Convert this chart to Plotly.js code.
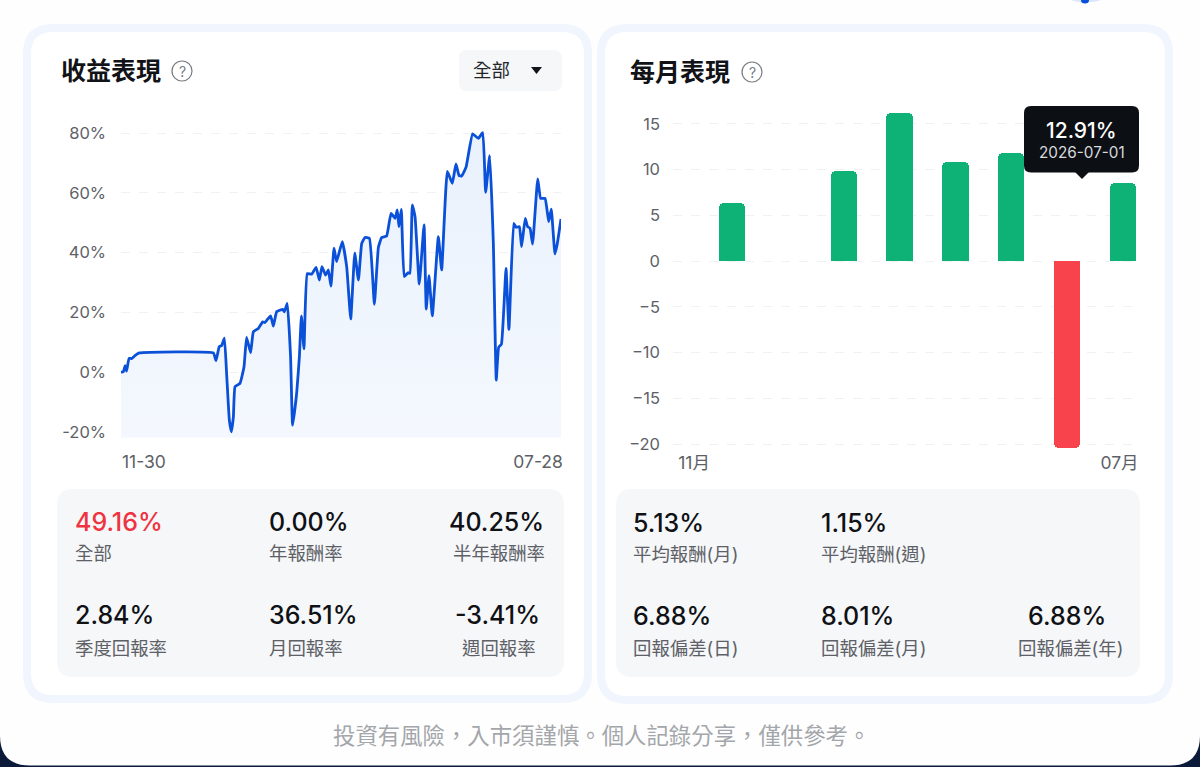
<!DOCTYPE html>
<html>
<head>
<meta charset="utf-8">
<script src="https://cdn.plot.ly/plotly-3.0.1.min.js"></script>
<style>html,body{margin:0;padding:0;background:#fff;overflow:hidden}#chart{width:1200px;height:767px}</style>
</head>
<body>
<div id="chart"></div>
<script>
// Left chart: days since 11-30 and cumulative return (%)
const dayOffsets = [0,1.3,2.2,3,4.4,5.8,7.6,10,50.4,51.8,53.6,54.9,56.4,57.6,59.1,60.2,61.3,62.2,64.9,67.1,68.5,70.7,72.2,74.9,77.3,78.5,81.6,83.1,84.9,88.2,89.1,90.7,92.5,93.6,95.8,97.3,98.4,99.8,101.6,104,106.4,108.2,109.6,111.6,113.1,114.5,116.2,117.6,120.7,123.1,125.3,127.5,129.5,131.3,133.1,135.5,138.2,140.4,142.2,144.9,147.3,149.5,150.7,151.6,152.9,154.5,156.7,157.6,158.9,160.4,162.7,165.3,166.5,168,169.8,173.1,174.9,178,180.7,182.7,184.4,185.8,188.2,191.8,194.9,197.3,198.9,201.1,203.1,204.7,206,207.5,210,211.6,214.2,215.5,217.3,218.5,220.5,221.8,223.1,224.5,227.3,228.9,231.3,233.3,234.7,236.7,238,240];
const cumulativeReturn = [0,0.1,2.1,0.3,4.6,4.5,5.5,6.4,6.4,3.8,8.5,8.9,11.4,-0.4,-16.1,-20,-15,-4.9,-3.8,1.8,11.6,6.5,13.5,14.6,16.8,16.6,18.8,15.4,20.2,21,20.2,23,5.1,-17.8,-7.2,5.1,18.8,7.8,33,32.8,35.1,30.8,35.3,32.5,34.2,28.8,41.5,37,43.7,35.3,17.8,39.8,30.8,43.1,45.1,44.8,22.7,41.8,45.1,45.6,53.2,51.5,54.3,48.7,54.5,32,33.3,33.1,56,52,29.5,49.3,21.1,32.3,18.8,45.4,34.2,67.2,63.2,69.7,65.8,65.7,68.6,79.8,78.3,80.2,60.2,72.5,43.1,-2.7,8.3,9.3,34.7,14.3,49.8,48.5,48.7,42,51.5,48.7,48.2,42.9,64.7,58.2,58.2,50.4,54.6,39.6,43.1,51.3];
const dateLabels = ['11-30','07-28'];
const pctTicks = [-20,0,20,40,60,80];
const pctTickLabels = ['-20%','0%','20%','40%','60%','80%'];

// Right chart: monthly returns (%)
const months = ['11月','12月','01月','02月','03月','04月','05月','06月','07月'];
const monthSlots = [0,1,2,3,4,5,6,7,8];
const monthlyReturn = [0,6.3,0,9.8,16.2,10.8,11.8,-20.4,8.5];
const monthTicks = [-20,-15,-10,-5,0,5,10,15];

// Text
const leftStats = [['49.16%','全部'],['0.00%','年報酬率'],['40.25%','半年報酬率'],['2.84%','季度回報率'],['36.51%','月回報率'],['-3.41%','週回報率']];
const rightStats = [['5.13%','平均報酬(月)'],['1.15%','平均報酬(週)'],['6.88%','回報偏差(日)'],['8.01%','回報偏差(月)'],['6.88%','回報偏差(年)']];
const footerNote = '投資有風險，入市須謹慎。個人記錄分享，僅供參考。';

const W = 1200, H = 767;
const FONT = 'Inter, "Noto Sans CJK TC", sans-serif';
const fx = x => x / W, fy = y => 1 - y / H;

function rr(x0, y0, x1, y1, r) {
  const p = (x, y) => fx(x) + ' ' + fy(y);
  const c = (cx, cy, x, y) => 'Q ' + p(cx, cy) + ' ' + p(x, y);
  return 'M ' + p(x0 + r, y0) + ' L ' + p(x1 - r, y0) + ' ' + c(x1, y0, x1, y0 + r) +
    ' L ' + p(x1, y1 - r) + ' ' + c(x1, y1, x1 - r, y1) +
    ' L ' + p(x0 + r, y1) + ' ' + c(x0, y1, x0, y1 - r) +
    ' L ' + p(x0, y0 + r) + ' ' + c(x0, y0, x0 + r, y0) + ' Z';
}
function box(x0, y0, x1, y1, r, fill, line, lw, layer) {
  return {type: 'path', xref: 'paper', yref: 'paper', path: rr(x0, y0, x1, y1, r),
    fillcolor: fill, line: {color: line || 'rgba(0,0,0,0)', width: lw || 0}, layer: layer || 'below'};
}
function txt(x, y, text, size, color, anchor, weight) {
  return {xref: 'paper', yref: 'paper', x: fx(x), y: fy(y), text: text, showarrow: false,
    xanchor: anchor || 'left', yanchor: 'middle', align: anchor || 'left',
    font: {family: FONT, size: size, color: color, weight: weight || 400}, borderpad: 0};
}

const shapes = [
  // dark frame behind the white panel
  {type:'rect',xref:'paper',yref:'paper',x0:0,x1:1,y0:0,y1:1,fillcolor:'#0c1a3a',line:{width:0},layer:'below'},
  box(0, -40, 1200, 765.5, 30, '#fefefe'),
  // cut-off icon at the top edge
  {type:'circle',xref:'paper',yref:'paper',layer:'below',fillcolor:'#dbe6fb',line:{width:0},x0:fx(1072),x1:fx(1100),y0:fy(2),y1:fy(-2)},
  {type:'circle',xref:'paper',yref:'paper',layer:'below',fillcolor:'#0b50d8',line:{width:0},x0:fx(1081),x1:fx(1089),y0:fy(3.5),y1:fy(-3)},
  box(27, 28, 588, 699, 26, '#ffffff', '#f0f5fe', 8),
  box(601, 28, 1169, 700, 26, '#ffffff', '#f0f5fe', 8),
  box(459, 50, 562, 91, 8, '#f6f7f8'),
  box(57, 489, 564, 677, 16, '#f6f7f9'),
  box(616, 489, 1140, 677, 16, '#f6f7f9'),
  // dropdown triangle
  {type:'path',xref:'paper',yref:'paper',layer:'below',fillcolor:'#111418',line:{width:0},
   path:'M '+fx(531)+' '+fy(67)+' L '+fx(542)+' '+fy(67)+' L '+fx(536.5)+' '+fy(74)+' Z'},
  // help icons
  {type:'circle',xref:'paper',yref:'paper',layer:'below',fillcolor:'rgba(0,0,0,0)',line:{color:'#777b80',width:1.2},
   x0:fx(172),x1:fx(192),y0:fy(81),y1:fy(61)},
  {type:'circle',xref:'paper',yref:'paper',layer:'below',fillcolor:'rgba(0,0,0,0)',line:{color:'#777b80',width:1.2},
   x0:fx(742),x1:fx(762),y0:fy(82),y1:fy(62)},
  // tooltip box and pointer
  box(1024, 106, 1139, 172.5, 7, '#0c0f14', null, 0, 'above'),
  {type:'path',xref:'paper',yref:'paper',layer:'above',fillcolor:'#0c0f14',line:{width:0},
   path:'M '+fx(1075)+' '+fy(172)+' L '+fx(1089)+' '+fy(172)+' L '+fx(1082)+' '+fy(179)+' Z'}
];

const annotations = [
  txt(60, 71, '收益表現', 25, '#111317', 'left', 700),
  txt(629, 72, '每月表現', 25, '#111317', 'left', 700),
  txt(182, 71, '?', 14, '#777b80', 'center'),
  txt(752, 72, '?', 14, '#777b80', 'center'),
  txt(491.5, 70, '全部', 18.5, '#22262b', 'center'),
  txt(1081.5, 130, '12.91%', 21, '#ffffff', 'center', 500),
  txt(1082, 152, '2026-07-01', 15.3, '#d8dadd', 'center'),
  txt(601, 735, footerNote, 22.4, '#a3a6aa', 'center')
];

// stat positions: [value x, label x, anchor, value y, label y]
const lPos = [[74,74,'left',522,553],[268,268,'left',522,553],[545,546,'right',522,553],[74,74,'left',615,648],[268,268,'left',615,648],[541,537,'right',615,648]];
leftStats.forEach((s, i) => {
  const p = lPos[i];
  annotations.push(txt(p[0], p[3], s[0], 25, i === 0 ? '#ef3340' : '#0f1115', p[2], 500));
  annotations.push(txt(p[1], p[4], s[1], 18.4, '#5d6167', p[2]));
});
const rPos = [[632,632,'left',523,554],[820,820,'left',523,554],[632,632,'left',616,648],[820,820,'left',616,648],[1107,1124,'right',616,648]];
rightStats.forEach((s, i) => {
  const p = rPos[i];
  annotations.push(txt(p[0], p[3], s[0], 25, '#0f1115', p[2], 500));
  annotations.push(txt(p[1], p[4], s[1], 18.4, '#5d6167', p[2]));
});

const baseline = dayOffsets.map(() => -22);

const traces = [
  {type:'scatter',mode:'lines',x:dayOffsets,y:baseline,xaxis:'x',yaxis:'y',line:{width:0,color:'rgba(0,0,0,0)'},hoverinfo:'skip',showlegend:false},
  {type:'scatter',mode:'lines',x:dayOffsets,y:cumulativeReturn,xaxis:'x',yaxis:'y',
   line:{color:'#0b50d8',width:2.8,shape:'spline',smoothing:0.35},fill:'tonexty',
   fillgradient:{type:'vertical',colorscale:[[0,'#f4f8fe'],[1,'#e9f1fc']]},
   fillcolor:'#eff4fd',showlegend:false,hovertemplate:'%{y}%<extra></extra>'},
  {type:'bar',x:monthSlots,y:monthlyReturn,xaxis:'x2',yaxis:'y2',width:0.47,
   marker:{color:monthlyReturn.map(v => v >= 0 ? '#0fb276' : '#f8424c'),cornerradius:5,line:{width:0}},
   text:months,hovertemplate:'%{text}: %{y}%<extra></extra>',textposition:'none',showlegend:false}
];

// left plot: x 121..561, y 110..438 ; 0% at 372, 2.985 px per %
// right plot: x 673..1138, y 100..450 ; 0 at 261, 9.15 px per unit
const tickFont = {family: FONT, size: 16.5, color: '#5d6167'};
const xTickFont = {family: FONT, size: 17.5, color: '#5d6167'};
const layout = {
  width: W, height: H, margin: {l:0,r:0,t:0,b:0}, showlegend: false,
  paper_bgcolor: '#ffffff', plot_bgcolor: 'rgba(0,0,0,0)', bargap: 0,
  xaxis: {domain:[fx(121),fx(561)],range:[0,240],tickmode:'array',tickvals:[12.5,227.5],ticktext:dateLabels,
    showgrid:false,zeroline:false,showline:false,ticks:'',tickfont:xTickFont,anchor:'y',ticklabelstandoff:11,fixedrange:true},
  yaxis: {domain:[fy(438),fy(110)],range:[-22.1,87.8],tickmode:'array',tickvals:pctTicks,ticktext:pctTickLabels,
    showgrid:true,griddash:'dash',gridcolor:'#eff1f3',gridwidth:1,zeroline:false,showline:false,ticks:'',tickfont:tickFont,anchor:'x',ticklabelstandoff:14,fixedrange:true},
  xaxis2: {domain:[fx(673),fx(1138)],range:[-0.057,8.27],tickmode:'array',tickvals:[0.32,7.94],ticktext:[months[0],months[8]],
    showgrid:false,zeroline:false,showline:false,ticks:'',tickfont:xTickFont,anchor:'y2',ticklabelstandoff:0,fixedrange:true},
  yaxis2: {domain:[fy(450),fy(100)],range:[(261-450)/9.15,(261-100)/9.15],tickmode:'array',tickvals:monthTicks,
    showgrid:true,griddash:'dash',gridcolor:'#eff1f3',gridwidth:1,zeroline:false,showline:false,ticks:'',tickfont:tickFont,anchor:'x2',ticklabelstandoff:12,fixedrange:true},
  shapes: shapes, annotations: annotations
};
Plotly.newPlot('chart', traces, layout, {displayModeBar:false});
</script>
</body>
</html>
